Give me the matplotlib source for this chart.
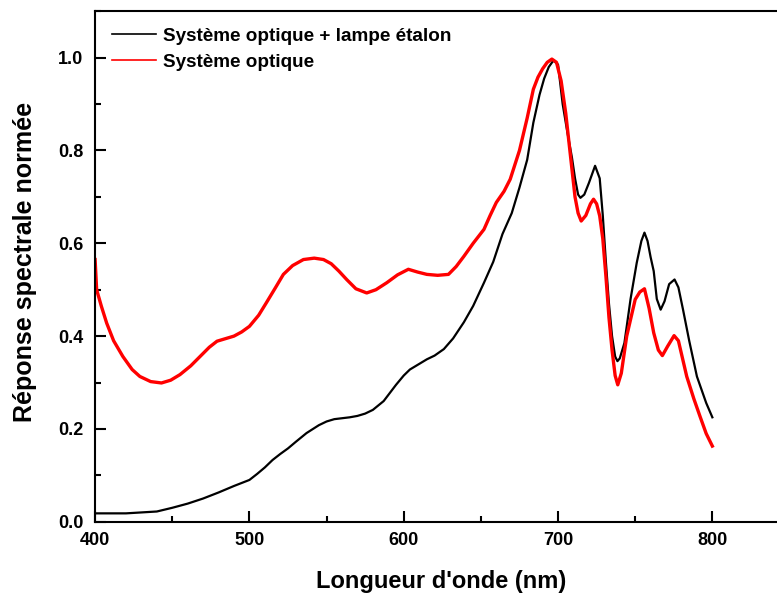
import matplotlib
matplotlib.use('Agg')
import matplotlib.pyplot as plt
from matplotlib.ticker import MultipleLocator

plt.rcParams['font.family'] = ['Liberation Sans', 'DejaVu Sans']
plt.rcParams['font.weight'] = 'bold'

# Système optique + lampe étalon (black)
wl_black = [400, 420, 440, 450, 460, 470, 480, 490, 500, 505, 510, 515, 520, 525,
            530, 537, 545, 550, 555, 560, 565, 570, 575, 580, 587, 595, 600, 604,
            610, 615, 620, 626, 632, 639, 645, 652, 658, 664, 670, 675, 680, 684,
            688, 691, 694, 697, 700, 703, 706, 709, 711, 713, 714.5, 717, 720, 724,
            727, 729, 731, 733, 735, 737, 738.5, 740, 743, 747, 751, 754, 756, 758,
            760, 762, 764, 766.5, 769, 772, 775.5, 778, 781, 785, 790, 796, 800]
resp_black = [0.018, 0.018, 0.022, 0.030, 0.039, 0.050, 0.063, 0.077, 0.090, 0.103,
              0.117, 0.133, 0.146, 0.158, 0.172, 0.191, 0.208, 0.216, 0.221, 0.223,
              0.225, 0.228, 0.233, 0.241, 0.260, 0.295, 0.315, 0.328, 0.340, 0.350,
              0.358, 0.372, 0.395, 0.430, 0.465, 0.515, 0.560, 0.620, 0.665, 0.720,
              0.780, 0.860, 0.920, 0.955, 0.980, 0.994, 0.985, 0.900, 0.840, 0.785,
              0.740, 0.705, 0.698, 0.705, 0.730, 0.767, 0.740, 0.660, 0.560, 0.470,
              0.400, 0.356, 0.346, 0.352, 0.385, 0.480, 0.558, 0.605, 0.623, 0.605,
              0.570, 0.540, 0.480, 0.457, 0.475, 0.512, 0.522, 0.505, 0.457, 0.390,
              0.313, 0.256, 0.225]

# Système optique (red)
wl_red = [400, 401, 404, 407.5, 412, 418, 424, 429, 436, 443, 449, 455, 462, 468,
          474, 479, 485, 490, 495, 500, 506, 511, 517, 522, 528, 535, 542, 548,
          553, 558, 563, 569, 576, 582, 589, 596, 603, 609, 615, 622, 629, 634,
          639, 645, 652, 656, 660, 665, 669, 675, 680, 684, 687, 690, 693, 696,
          699, 702, 705, 708, 711, 713, 715, 718, 721, 723, 725, 727, 729, 731,
          733, 735, 737, 738.7, 741, 744.5, 750, 753, 756, 759, 762, 765, 767.6,
          771, 775.2, 778, 783.4, 788, 792, 796, 800]
resp_red = [0.565, 0.500, 0.465, 0.428, 0.390, 0.356, 0.328, 0.313, 0.302, 0.299,
            0.305, 0.317, 0.336, 0.356, 0.376, 0.389, 0.395, 0.400, 0.409, 0.421,
            0.445, 0.472, 0.505, 0.533, 0.552, 0.565, 0.568, 0.565, 0.556, 0.540,
            0.522, 0.502, 0.493, 0.500, 0.515, 0.532, 0.544, 0.538, 0.533, 0.531,
            0.533, 0.550, 0.572, 0.600, 0.630, 0.660, 0.688, 0.712, 0.738, 0.800,
            0.870, 0.932, 0.958, 0.976, 0.990, 0.997, 0.990, 0.950, 0.880, 0.790,
            0.700, 0.665, 0.648, 0.660, 0.685, 0.695, 0.685, 0.659, 0.610, 0.530,
            0.440, 0.370, 0.315, 0.295, 0.320, 0.400, 0.479, 0.495, 0.502, 0.460,
            0.407, 0.370, 0.358, 0.378, 0.401, 0.390, 0.313, 0.265, 0.227, 0.190,
            0.163]

fig = plt.figure(figsize=(7.77, 5.94), dpi=100)
ax = fig.add_axes([0.1224, 0.1217, 0.8937, 0.8593])

ax.plot(wl_black, resp_black, color='black', lw=1.6, label='Système optique + lampe étalon')
ax.plot(wl_red, resp_red, color='red', lw=2.4, label='Système optique')

ax.set_xlim(400, 850)
ax.set_ylim(0, 1.1)
ax.xaxis.set_major_locator(MultipleLocator(100))
ax.xaxis.set_minor_locator(MultipleLocator(50))
ax.yaxis.set_major_locator(MultipleLocator(0.2))
ax.yaxis.set_minor_locator(MultipleLocator(0.1))
ax.tick_params(which='both', direction='in', width=1.5, labelsize=13)
ax.tick_params(which='major', length=8)
ax.tick_params(which='minor', length=4)
ax.tick_params(axis='x', pad=7.5)
ax.tick_params(axis='y', pad=8.5)
ax.set_xticks([400, 500, 600, 700, 800])
for s in ax.spines.values():
    s.set_linewidth(1.5)

ax.set_xlabel("Longueur d'onde (nm)", fontsize=17, fontweight='bold')
ax.set_ylabel('Réponse spectrale normée', fontsize=18, fontweight='bold')
ax.xaxis.set_label_coords(0.4985, -0.095)
ax.yaxis.set_label_coords(-0.0837, 0.508)

leg = ax.legend(loc='upper left', bbox_to_anchor=(0.024, 0.968), frameon=False,
                fontsize=13.6, handlelength=2.33, handletextpad=0.37,
                labelspacing=0.46, borderpad=0, borderaxespad=0)
for t in leg.get_texts():
    t.set_fontweight('bold')
for h in leg.get_lines():
    h.set_linewidth(1.2)

fig.savefig('out.png', dpi=100)
